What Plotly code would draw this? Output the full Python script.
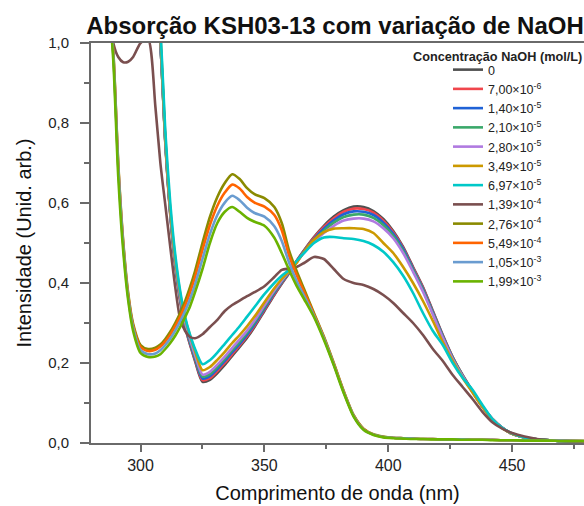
import plotly.graph_objects as go

wavelength_nm = [280, 284, 287, 289, 291, 293, 295, 297, 300, 303,
                 306, 308, 310, 312, 314, 316, 318, 320, 322, 325,
                 328, 331, 334, 337, 340, 343, 346, 350, 354, 357,
                 360, 363, 366, 370, 374, 378, 382, 386, 390, 394,
                 398, 402, 406, 410, 414, 418, 422, 426, 430, 434,
                 438, 442, 446, 450, 455, 460, 465, 470, 480]

series_names = ["0", "7,00×10<sup>-6</sup>", "1,40×10<sup>-5</sup>", "2,10×10<sup>-5</sup>",
                "2,80×10<sup>-5</sup>", "3,49×10<sup>-5</sup>", "6,97×10<sup>-5</sup>",
                "1,39×10<sup>-4</sup>", "2,76×10<sup>-4</sup>", "5,49×10<sup>-4</sup>",
                "1,05×10<sup>-3</sup>", "1,99×10<sup>-3</sup>"]

series_colors = ["#505050", "#f0464c", "#1f62d6", "#3aa86a", "#b07ae0", "#cc9900",
                 "#00c8c8", "#7a4f4f", "#8a8a00", "#ff6400", "#6a9cd0", "#6ab300"]

naoh_0 = [1.6, 1.6, 1.55, 1.5, 1.5, 1.5, 1.5, 1.5, 1.45, 1.35,
          1.15, 1.0, 0.75, 0.57, 0.445, 0.355, 0.29, 0.245, 0.205, 0.153,
          0.158, 0.175, 0.195, 0.218, 0.24, 0.263, 0.29, 0.33, 0.37, 0.398,
          0.425, 0.455, 0.482, 0.515, 0.543, 0.566, 0.582, 0.591, 0.59, 0.58,
          0.56, 0.53, 0.49, 0.44, 0.39, 0.33, 0.27, 0.215, 0.17, 0.13,
          0.092, 0.06, 0.038, 0.023, 0.014, 0.009, 0.007, 0.005, 0.004]
naoh_7e6 = [1.6, 1.6, 1.55, 1.5, 1.5, 1.5, 1.5, 1.5, 1.45, 1.35,
            1.15, 1.0, 0.752, 0.572, 0.447, 0.357, 0.292, 0.247, 0.208, 0.157,
            0.162, 0.18, 0.2, 0.222, 0.244, 0.267, 0.293, 0.333, 0.372, 0.4,
            0.426, 0.455, 0.481, 0.513, 0.54, 0.562, 0.578, 0.586, 0.585, 0.576,
            0.556, 0.527, 0.488, 0.438, 0.388, 0.328, 0.268, 0.214, 0.169, 0.129,
            0.091, 0.06, 0.038, 0.023, 0.014, 0.009, 0.007, 0.005, 0.004]
naoh_14e6 = [1.6, 1.6, 1.55, 1.5, 1.5, 1.5, 1.5, 1.5, 1.45, 1.35,
             1.15, 1.0, 0.754, 0.574, 0.449, 0.36, 0.295, 0.25, 0.211, 0.161,
             0.167, 0.185, 0.205, 0.227, 0.248, 0.271, 0.297, 0.336, 0.375, 0.402,
             0.427, 0.454, 0.48, 0.51, 0.536, 0.557, 0.572, 0.579, 0.578, 0.57,
             0.551, 0.523, 0.485, 0.435, 0.385, 0.326, 0.267, 0.213, 0.168, 0.128,
             0.091, 0.06, 0.038, 0.023, 0.014, 0.009, 0.007, 0.005, 0.004]
naoh_21e6 = [1.6, 1.6, 1.55, 1.5, 1.5, 1.5, 1.5, 1.5, 1.45, 1.35,
             1.15, 1.0, 0.756, 0.577, 0.452, 0.363, 0.299, 0.254, 0.215, 0.166,
             0.172, 0.19, 0.21, 0.232, 0.253, 0.276, 0.301, 0.34, 0.378, 0.404,
             0.428, 0.453, 0.478, 0.507, 0.531, 0.551, 0.565, 0.571, 0.571, 0.563,
             0.545, 0.518, 0.48, 0.432, 0.382, 0.324, 0.265, 0.212, 0.168, 0.128,
             0.091, 0.06, 0.038, 0.023, 0.014, 0.009, 0.007, 0.005, 0.004]
naoh_28e6 = [1.6, 1.6, 1.55, 1.5, 1.5, 1.5, 1.5, 1.5, 1.45, 1.35,
             1.16, 1.01, 0.76, 0.58, 0.456, 0.367, 0.303, 0.259, 0.22, 0.171,
             0.178, 0.196, 0.216, 0.238, 0.259, 0.281, 0.306, 0.344, 0.381, 0.406,
             0.429, 0.452, 0.476, 0.503, 0.525, 0.543, 0.556, 0.561, 0.561, 0.554,
             0.537, 0.512, 0.475, 0.428, 0.378, 0.321, 0.263, 0.21, 0.167, 0.127,
             0.091, 0.06, 0.038, 0.023, 0.014, 0.009, 0.007, 0.005, 0.004]
naoh_349e7 = [1.6, 1.6, 1.55, 1.5, 1.5, 1.5, 1.5, 1.5, 1.45, 1.35,
              1.17, 1.02, 0.765, 0.585, 0.462, 0.374, 0.311, 0.268, 0.23, 0.182,
              0.19, 0.208, 0.228, 0.25, 0.27, 0.292, 0.316, 0.352, 0.387, 0.41,
              0.43, 0.45, 0.478, 0.508, 0.527, 0.536, 0.537, 0.537, 0.535, 0.525,
              0.5, 0.475, 0.44, 0.4, 0.355, 0.305, 0.252, 0.205, 0.163, 0.126,
              0.09, 0.059, 0.037, 0.023, 0.014, 0.009, 0.007, 0.005, 0.004]
naoh_697e7 = [1.6, 1.6, 1.55, 1.5, 1.5, 1.5, 1.5, 1.5, 1.45, 1.38,
              1.2, 1.04, 0.78, 0.6, 0.472, 0.38, 0.315, 0.27, 0.235, 0.197,
              0.207, 0.226, 0.248, 0.27, 0.292, 0.316, 0.34, 0.372, 0.4, 0.418,
              0.433, 0.455, 0.475, 0.5, 0.514, 0.515, 0.512, 0.51, 0.505, 0.495,
              0.478, 0.452, 0.418, 0.375, 0.325, 0.28, 0.245, 0.2, 0.163, 0.133,
              0.095, 0.06, 0.038, 0.024, 0.014, 0.009, 0.007, 0.005, 0.004]
naoh_139e6 = [1.5, 1.3, 1.1, 1.0, 0.965, 0.952, 0.953, 0.965, 1.0, 1.01,
              0.84, 0.7, 0.595, 0.49, 0.39, 0.31, 0.28, 0.265, 0.262, 0.272,
              0.29, 0.308, 0.33, 0.345, 0.356, 0.367, 0.377, 0.392, 0.415, 0.433,
              0.436, 0.44, 0.45, 0.465, 0.46, 0.435, 0.41, 0.4, 0.395, 0.385,
              0.37, 0.35, 0.325, 0.3, 0.27, 0.235, 0.205, 0.17, 0.14, 0.11,
              0.078, 0.052, 0.036, 0.025, 0.016, 0.01, 0.007, 0.005, 0.004]
naoh_276e6 = [1.55, 1.32, 1.12, 0.98, 0.7, 0.505, 0.375, 0.298, 0.245, 0.235,
              0.238, 0.246, 0.26, 0.278, 0.3, 0.325, 0.355, 0.39, 0.43, 0.5,
              0.565, 0.615, 0.65, 0.672, 0.66, 0.637, 0.622, 0.612, 0.59, 0.55,
              0.48, 0.43, 0.385, 0.325, 0.266, 0.2, 0.13, 0.07, 0.036, 0.022,
              0.016, 0.013, 0.012, 0.011, 0.01, 0.01, 0.009, 0.009, 0.009, 0.008,
              0.008, 0.008, 0.007, 0.007, 0.007, 0.006, 0.006, 0.006, 0.005]
naoh_549e6 = [1.55, 1.32, 1.12, 0.975, 0.695, 0.5, 0.37, 0.293, 0.24, 0.23,
              0.233, 0.241, 0.254, 0.271, 0.292, 0.316, 0.344, 0.377, 0.415, 0.483,
              0.545, 0.593, 0.626, 0.646, 0.636, 0.615, 0.601, 0.591, 0.57, 0.532,
              0.468, 0.42, 0.378, 0.322, 0.264, 0.198, 0.129, 0.069, 0.035, 0.021,
              0.015, 0.013, 0.012, 0.011, 0.01, 0.01, 0.009, 0.009, 0.009, 0.008,
              0.008, 0.008, 0.007, 0.007, 0.007, 0.006, 0.006, 0.006, 0.005]
naoh_105e5 = [1.55, 1.32, 1.12, 0.97, 0.69, 0.495, 0.365, 0.288, 0.232, 0.222,
              0.224, 0.232, 0.245, 0.261, 0.281, 0.304, 0.33, 0.36, 0.396, 0.46,
              0.522, 0.57, 0.601, 0.618, 0.607, 0.588, 0.575, 0.566, 0.542, 0.505,
              0.45, 0.405, 0.368, 0.318, 0.262, 0.196, 0.127, 0.068, 0.034, 0.021,
              0.015, 0.013, 0.012, 0.011, 0.01, 0.01, 0.009, 0.009, 0.009, 0.008,
              0.008, 0.008, 0.007, 0.007, 0.007, 0.006, 0.006, 0.006, 0.005]
naoh_199e5 = [1.55, 1.32, 1.12, 0.955, 0.665, 0.48, 0.357, 0.28, 0.225, 0.215,
              0.216, 0.222, 0.235, 0.25, 0.268, 0.29, 0.315, 0.342, 0.377, 0.435,
              0.5, 0.55, 0.578, 0.59, 0.578, 0.563, 0.553, 0.543, 0.513, 0.475,
              0.432, 0.393, 0.36, 0.315, 0.258, 0.194, 0.125, 0.066, 0.033, 0.02,
              0.014, 0.012, 0.011, 0.01, 0.01, 0.009, 0.009, 0.009, 0.008, 0.008,
              0.008, 0.007, 0.007, 0.007, 0.006, 0.006, 0.006, 0.005, 0.005]

series_values = [naoh_0, naoh_7e6, naoh_14e6, naoh_21e6, naoh_28e6, naoh_349e7,
                 naoh_697e7, naoh_139e6, naoh_276e6, naoh_549e6, naoh_105e5, naoh_199e5]

y_ticks = [0.0, 0.2, 0.4, 0.6, 0.8, 1.0]
y_minor = [0.1, 0.3, 0.5, 0.7, 0.9]
x_ticks = [300, 350, 400, 450]
x_minor = [325, 375, 425, 475]

FONT = "Liberation Sans, Arial, sans-serif"
AXIS = "#6a6a6a"

W, H = 584, 506
PL, PT, PW, PH = 91, 43, 493, 400

fig = go.Figure()
for name, color, vals in zip(series_names, series_colors, series_values):
    assert len(vals) == len(wavelength_nm)
    fig.add_trace(go.Scatter(
        x=wavelength_nm, y=vals, name=name, mode="lines",
        line=dict(color=color, width=2.6, shape="spline", smoothing=0.7),
    ))

fig.update_layout(
    width=W, height=H,
    margin=dict(l=PL, r=W - PL - PW, t=PT, b=H - PT - PH, pad=0),
    paper_bgcolor="white", plot_bgcolor="white",
    separators=",.",
    font=dict(family=FONT, color="#222"),
    title=dict(text="<b>Absorção KSH03-13 com variação de NaOH</b>",
               x=335 / W, xanchor="center", y=1 - 26 / H, yanchor="middle",
               font=dict(family=FONT, size=24, color="#111")),
    showlegend=True,
    legend=dict(x=(448 - PL) / PW, y=1 - (55 - PT) / PH, xanchor="left", yanchor="top",
                bgcolor="rgba(0,0,0,0)", borderwidth=0, tracegroupgap=0,
                font=dict(family=FONT, size=12.5, color="#222"),
                itemwidth=30),
    annotations=[dict(text="<b>Concentração NaOH (mol/L)</b>", xref="paper", yref="paper",
                      x=(497 - PL) / PW, y=1 - (57 - PT) / PH, xanchor="center", yanchor="middle",
                      showarrow=False, font=dict(family=FONT, size=12.7, color="#222"))],
)

fig.update_xaxes(
    range=[280, 479], tickvals=x_ticks, ticks="outside", ticklen=7, tickwidth=1.5,
    tickcolor=AXIS, showline=True, linecolor=AXIS, linewidth=2, mirror=True,
    showgrid=False, zeroline=False, tickfont=dict(size=16, color="#222"),
    minor=dict(tickvals=x_minor, ticks="outside", ticklen=4, tickwidth=1.5, tickcolor=AXIS),
    title=dict(text="Comprimento de onda (nm)", font=dict(size=20, color="#111"), standoff=13),
)
fig.update_yaxes(
    range=[0, 1.0], tickvals=y_ticks, tickformat=".1f", ticks="outside", ticklen=9, tickwidth=1.5,
    tickcolor=AXIS, showline=True, linecolor=AXIS, linewidth=2, mirror=False,
    showgrid=False, zeroline=False, tickfont=dict(size=15, color="#222"),
    ticklabelstandoff=8,
    minor=dict(tickvals=y_minor, ticks="outside", ticklen=5, tickwidth=1.5, tickcolor=AXIS),
    title=dict(text="Intensidade (Unid. arb.)", font=dict(size=20, color="#111"), standoff=11),
)

fig.write_html("out.html",
               config={"displayModeBar": False},
               post_script="document.body.style.margin='0';document.body.style.overflow='hidden';")
